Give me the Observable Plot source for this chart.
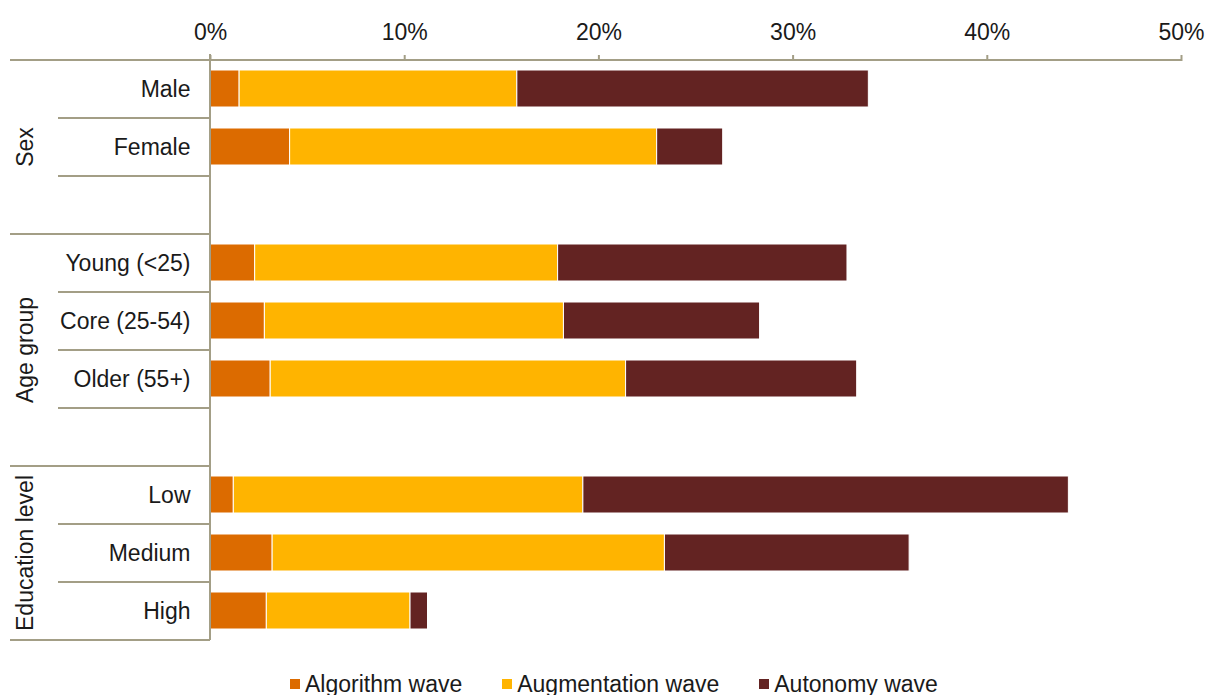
<!DOCTYPE html>
<html>
<head>
<meta charset="utf-8">
<script src="https://cdn.jsdelivr.net/npm/d3@7"></script>
<script src="https://cdn.jsdelivr.net/npm/@observablehq/plot@0.6"></script>
<style>
  html, body { margin: 0; padding: 0; background: #fff; }
  body { font-family: "Liberation Sans", Arial, sans-serif; color: #1a1a1a; width: 1206px; height: 695px; overflow: hidden; }
  #chart svg { display: block; }
  #legend { display: flex; align-items: center; gap: 40px; padding-left: 290px; margin-top: 9px; font-size: 23px; line-height: 26px; }
  #legend .item { display: flex; align-items: center; gap: 5px; }
  #legend .sw { width: 10px; height: 10px; display: inline-block; }
</style>
</head>
<body>
<div id="chart"></div>
<div id="legend"></div>
<script>
// ---- data ----
const categories = ["Male", "Female", "Young (<25)", "Core (25-54)", "Older (55+)", "Low", "Medium", "High"];
const rowKeys = ["Male", "Female", "gap1", "Young (<25)", "Core (25-54)", "Older (55+)", "gap2", "Low", "Medium", "High"];
const groupNames = ["Sex", "Age group", "Education level"];
const groupFirst = ["Male", "Young (<25)", "Low"];
const groupLast = ["gap1", "gap2", "High"];
const series = ["Algorithm wave", "Augmentation wave", "Autonomy wave"];
const algorithm = [1.5, 4.1, 2.3, 2.8, 3.1, 1.2, 3.2, 2.9];
const augmentation = [14.3, 18.9, 15.6, 15.4, 18.3, 18.0, 20.2, 7.4];
const autonomy = [18.1, 3.4, 14.9, 10.1, 11.9, 25.0, 12.6, 0.9];
const xTicks = [0, 10, 20, 30, 40, 50];
const colors = ["#DC6B00", "#FFB400", "#632322"];
const lineColor = "#A39E86";

const seriesValues = [algorithm, augmentation, autonomy];
const data = categories.flatMap((c, i) => series.map((s, j) => ({row: c, series: s, value: seriesValues[j][i]})));

const plot = Plot.plot({
  width: 1206,
  height: 662,
  marginLeft: 210,
  marginRight: 25,
  marginTop: 60,
  marginBottom: 22,
  style: {fontFamily: "Liberation Sans, Arial, sans-serif", fontSize: "23px", color: "#1a1a1a", background: "#fff"},
  x: {domain: [0, 50]},
  y: {domain: rowKeys, padding: 0},
  color: {domain: series, range: colors},
  marks: [
    Plot.barX(data, {x: "value", y: "row", fill: "series", stroke: "white", strokeWidth: 1, insetTop: 10, insetBottom: 11}),
    Plot.axisX({anchor: "top", label: null, ticks: xTicks, tickFormat: d => d + "%", tickSize: 6, tickPadding: 15, stroke: lineColor, strokeWidth: 2, strokeOpacity: 1, fontSize: 23}),
    Plot.axisY({label: null, tickSize: 0, tickPadding: 20, tickFormat: k => k.startsWith("gap") ? "" : k, fontSize: 23})
  ]
});
document.getElementById("chart").appendChild(plot);

// ---- decorations using the plot's own scales ----
const svg = d3.select(plot);
const xs = plot.scale("x"), ys = plot.scale("y");
const bw = ys.bandwidth;
const x0 = xs.apply(0), xEnd = xs.apply(50);
const yTop = ys.apply(rowKeys[0]);
const yBottom = ys.apply(rowKeys[rowKeys.length - 1]) + bw;
const outerLeft = 10, innerLeft = 58;

const g = svg.append("g").attr("stroke", lineColor).attr("stroke-width", 2).attr("fill", "none");
g.append("line").attr("x1", outerLeft).attr("x2", xEnd).attr("y1", yTop).attr("y2", yTop);
g.append("line").attr("x1", x0).attr("x2", x0).attr("y1", yTop - 6).attr("y2", yBottom);
rowKeys.slice(1).forEach(k => {
  const yy = ys.apply(k);
  g.append("line").attr("x1", groupFirst.includes(k) ? outerLeft : innerLeft).attr("x2", x0).attr("y1", yy).attr("y2", yy);
});
g.append("line").attr("x1", outerLeft).attr("x2", x0).attr("y1", yBottom).attr("y2", yBottom);

groupNames.forEach((name, i) => {
  const cy = (ys.apply(groupFirst[i]) + ys.apply(groupLast[i]) + bw) / 2;
  svg.append("text")
    .attr("transform", `translate(25,${cy}) rotate(-90)`)
    .attr("text-anchor", "middle")
    .attr("dominant-baseline", "central")
    .attr("font-size", 23)
    .attr("fill", "#1a1a1a")
    .text(name);
});

// ---- legend ----
const legend = d3.select("#legend");
series.forEach((s, i) => {
  const item = legend.append("div").attr("class", "item");
  item.append("span").attr("class", "sw").style("background", colors[i]);
  item.append("span").text(s);
});
</script>
</body>
</html>
